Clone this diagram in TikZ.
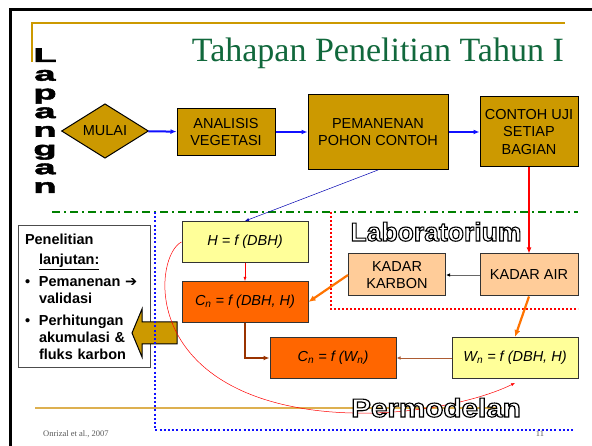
\documentclass[tikz,border=0pt]{standalone}
\usepackage{fontspec}
\setmainfont{Liberation Sans}
\newfontfamily\slideserif{Liberation Serif}
\newfontfamily\arrowfont{DejaVu Sans}
\newfontfamily\heavyfont[FakeBold=2]{Liberation Sans Bold}
\usetikzlibrary{shapes.geometric,arrows.meta}

\definecolor{gold}{HTML}{CC9900}
\definecolor{goldrule}{HTML}{DDB050}
\definecolor{titlegreen}{HTML}{11683C}
\definecolor{paleyellow}{HTML}{FFFF99}
\definecolor{peach}{HTML}{FFCC99}
\definecolor{hotorange}{HTML}{FF6600}
\definecolor{flowblue}{HTML}{1010FF}
\definecolor{rust}{HTML}{993300}
\definecolor{dashgreen}{HTML}{008000}

\newcommand{\boxfont}{\fontsize{14.5}{17.5}\selectfont}
\newcommand{\eqfont}{\fontsize{14.5}{17}\selectfont\itshape}
% white letters with a black outline (PDF text render mode 2)
\newcommand{\hollowtext}[1]{\special{pdf:literal direct 0 G 2 Tr 1.1 w}#1\special{pdf:literal direct 0 Tr 0.4 w}}

\begin{document}
\begin{tikzpicture}[x=1pt, y=-1pt,
    every node/.style={inner sep=0pt},
    stage/.style={draw=black, line width=1pt, fill=gold, align=center, font=\boxfont},
    labbox/.style={draw=black!80, line width=1pt, fill=peach, align=center,
                   font=\boxfont, minimum width=97pt, minimum height=42pt},
    eqbox/.style={draw=black!80, line width=1pt, align=center, font=\eqfont,
                  minimum width=126pt, minimum height=41pt},
    flow/.style={-{Latex[length=6pt,width=5pt]}, flowblue, line width=2pt},
    thick orange/.style={-{Latex[length=7pt,width=6pt]}, orange!90!red, line width=2.2pt},
    hollow/.style={anchor=base, text=white, font=\bfseries\fontsize{26}{26}\selectfont}]
  \useasboundingbox (0,0) rectangle (592,446);
  \fill[white] (0,0) rectangle (592,446);

  % slide frame and rules
  \draw[line width=3pt] (10,446) -- (10,10) -- (592,10);
  \draw[gold, line width=1.2pt] (32,62) -- (32,23) -- (565,23);
  \draw[goldrule, line width=2pt] (35,408) -- (502,408);

  \node (title) [anchor=base east, text=titlegreen,
                 font=\slideserif\fontsize{34}{34}\selectfont] at (564,62) {Tahapan Penelitian Tahun I};

  \foreach \ch [count=\i] in {L,a,p,a,n,g,a,n}
    \node (lap\i) [anchor=base, font=\heavyfont\fontsize{20}{20}\selectfont]
      at (45,{62+18.7*(\i-1)}) {\scalebox{1.9}[1]{\ch}};

  % field stages
  \node (mulai) [diamond, draw=black, line width=1pt, fill=gold, font=\boxfont,
                 minimum width=87pt, minimum height=51pt] at (105,131) {MULAI};
  \node (analisis) [stage, minimum width=98pt, minimum height=47pt] at (226,132) {ANALISIS\\VEGETASI};
  \node (pemanenan) [stage, minimum width=140pt, minimum height=75pt] at (378,132) {PEMANENAN\\POHON CONTOH};
  \node (contoh) [stage, minimum width=98pt, minimum height=70pt] at (529,132) {CONTOH UJI\\SETIAP\\BAGIAN};

  \draw[flow] (mulai) -- (analisis);
  \draw[flow] (analisis) -- (pemanenan);
  \draw[flow] (pemanenan) -- (contoh);

  % zone boundaries
  \draw[dashgreen, line width=2pt, dash pattern=on 8pt off 4pt on 2pt off 4pt] (52,212) -- (578,212);
  \draw[red, line width=2pt, dash pattern=on 2pt off 2pt] (331,212) -- (331,309) -- (578,309);

  % follow-up research
  \node (lanjut) [draw=black!70, line width=1pt, fill=white, minimum width=132pt,
                  minimum height=142pt, text width=118pt, align=left,
                  font=\fontsize{14.5}{17}\selectfont\bfseries] at (84,297)
    {Penelitian\\[3pt]
     \hspace*{14pt}\underline{lanjutan:}\\[5pt]
     \makebox[14pt][l]{•}Pemanenan {\arrowfont\bfseries ➔}\\
     \hspace*{14pt}validasi\\[5pt]
     \makebox[14pt][l]{•}Perhitungan\\
     \hspace*{14pt}akumulasi \&\\
     \hspace*{14pt}fluks karbon};
  \draw[fill=gold, line width=1pt] (177,322) -- (142,322) -- (142,309) -- (132,333)
    -- (142,357) -- (142,344) -- (177,344) -- cycle;

  \draw[flowblue, line width=2.5pt, dash pattern=on 2pt off 2.2pt] (155,212) -- (155,430) -- (573,430);

  % laboratory and modelling
  \node (hbox) [eqbox, fill=paleyellow] at (245,242) {H = f (DBH)};
  \node (cdbh) [eqbox, fill=hotorange] at (245,302) {C\textsubscript{n} = f (DBH, H)};
  \node (cwn) [eqbox, fill=hotorange] at (333,358) {C\textsubscript{n} = f (W\textsubscript{n})};
  \node (wn) [eqbox, fill=paleyellow] at (515,358) {W\textsubscript{n} = f (DBH, H)};
  \node (karbon) [labbox] at (397,275) {KADAR\\KARBON};
  \node (air) [labbox, minimum width=98pt] at (529,275) {KADAR AIR};

  \draw[red, line width=2pt, -{Latex[length=6pt,width=5pt]}] (contoh) -- (air);
  \draw[blue!70!black, line width=0.5pt, -{Latex[length=4pt,width=3pt]}] (pemanenan.south) -- (hbox.north);
  \draw[black!60, line width=0.8pt, -{Latex[length=4pt,width=3.5pt,black]}] (air) -- (karbon);
  \draw[thick orange] (karbon.west) -- (cdbh.east);
  \draw[thick orange] (air.south) -- (wn.north);
  \draw[rust!80, line width=0.8pt, -{Latex[length=4pt,width=3.5pt]}] (wn) -- (cwn);
  \draw[red, line width=0.5pt, -{Latex[length=4pt,width=3pt]}] (hbox) -- (cdbh);
  \draw[rust, line width=2pt, -{Latex[length=6pt,width=5pt]}] (cdbh.south) |- (cwn.west);

  \coordinate (dip) at (300,408);
  \coordinate (wnmark) at (515,383);
  \draw[red, line width=0.5pt, -{Latex[length=4pt,width=3pt]}] (hbox.west)
    .. controls (155,255) and (140,380) .. (dip)
    .. controls (380,422) and (470,405) .. (wnmark);

  \node (labo) [hollow] at (436,241) {\hollowtext{\scalebox{1.02}[1]{Laboratorium}}};
  \node (model) [hollow] at (436,417) {\hollowtext{\scalebox{1.14}[1]{Permodelan}}};

  % footer
  \node (source) [anchor=base west, text=black!65, font=\slideserif\fontsize{8.5}{9}\selectfont] at (43,436) {Onrizal et al., 2007};
  \node (page) [anchor=base, text=black!65, font=\slideserif\fontsize{8.5}{9}\selectfont] at (540,436) {11};
\end{tikzpicture}
\end{document}
